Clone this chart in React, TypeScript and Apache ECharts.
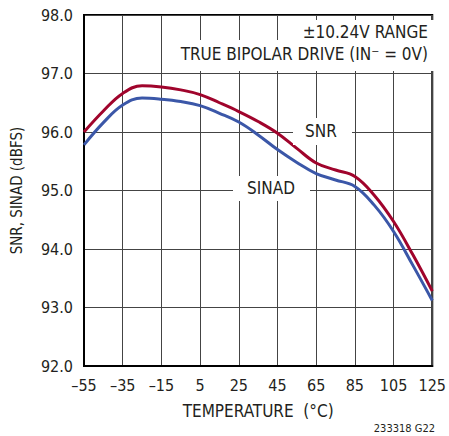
import React, { useEffect, useRef } from "react";
import * as echarts from "echarts";

const temps = [-55, -45, -35, -25, -15, -5, 5, 15, 25, 35, 45, 55, 65, 75, 85, 95, 105, 115, 125];
const snr = [96.0, 96.36, 96.66, 96.79, 96.77, 96.72, 96.64, 96.5, 96.35, 96.18, 95.98, 95.72, 95.47, 95.35, 95.24, 94.92, 94.47, 93.9, 93.28];
const sinad = [95.78, 96.16, 96.46, 96.58, 96.56, 96.52, 96.45, 96.32, 96.17, 95.95, 95.7, 95.48, 95.29, 95.18, 95.07, 94.75, 94.3, 93.72, 93.12];
const xTicks = [-55, -35, -15, 5, 25, 45, 65, 85, 105, 125];
const yTicks = [92, 93, 94, 95, 96, 97, 98];

const FONT = "'DejaVu Sans Condensed', 'Liberation Sans', sans-serif";
const TXT = "#231f20";

export default function App() {
  const ref = useRef<HTMLDivElement>(null);
  useEffect(() => {
    const chart = echarts.init(ref.current!, null, { renderer: "svg" });
    chart.setOption({
      animation: false,
      grid: { left: 84, right: 13, top: 15, bottom: 70, show: true, borderColor: "#000", borderWidth: 2 },
      xAxis: {
        type: "value",
        min: xTicks[0],
        max: xTicks[xTicks.length - 1],
        interval: 20,
        name: "TEMPERATURE  (°C)",
        nameLocation: "middle",
        nameGap: 36,
        nameTextStyle: { fontFamily: FONT, fontSize: 17, color: TXT },
        axisLine: { onZero: false, lineStyle: { color: "#000", width: 2 } },
        axisTick: { show: false },
        axisLabel: {
          fontFamily: FONT,
          fontSize: 16,
          color: TXT,
          margin: 11,
          formatter: (v: number) => (v < 0 ? "\u2013" + Math.abs(v) : String(v)),
        },
        splitLine: { show: true, lineStyle: { color: "#444", width: 1 } },
      },
      yAxis: {
        type: "value",
        min: yTicks[0],
        max: yTicks[yTicks.length - 1],
        interval: 1,
        name: "SNR, SINAD (dBFS)",
        nameLocation: "middle",
        nameGap: 60,
        nameTextStyle: { fontFamily: FONT, fontSize: 15, color: TXT },
        axisLine: { show: true, onZero: false, lineStyle: { color: "#000", width: 2 } },
        axisTick: { show: false },
        axisLabel: {
          fontFamily: FONT,
          fontSize: 16,
          color: TXT,
          margin: 11,
          formatter: (v: number) => v.toFixed(1),
        },
        splitLine: { show: true, lineStyle: { color: "#444", width: 1 } },
      },
      series: [
        {
          name: "SNR",
          type: "line",
          data: temps.map((t, i) => [t, snr[i]]),
          smooth: 0.4,
          showSymbol: false,
          lineStyle: { color: "#a0042c", width: 3 },
          z: 3,
        },
        {
          name: "SINAD",
          type: "line",
          data: temps.map((t, i) => [t, sinad[i]]),
          smooth: 0.4,
          showSymbol: false,
          lineStyle: { color: "#3b57a8", width: 3 },
          z: 3,
        },
      ],
      graphic: [
        { type: "rect", shape: { x: 293, y: 118, width: 59, height: 27 }, style: { fill: "#fff" }, z: 10 },
        {
          type: "text",
          x: 321,
          y: 131,
          style: { text: "SNR", font: `17px ${FONT}`, fill: TXT, align: "center", verticalAlign: "middle" },
          z: 11,
        },
        { type: "rect", shape: { x: 233, y: 176, width: 77, height: 25 }, style: { fill: "#fff" }, z: 10 },
        {
          type: "text",
          x: 271,
          y: 188,
          style: { text: "SINAD", font: `17px ${FONT}`, fill: TXT, align: "center", verticalAlign: "middle" },
          z: 11,
        },
        { type: "rect", shape: { x: 298, y: 20, width: 136, height: 24 }, style: { fill: "#fff" }, z: 10 },
        { type: "rect", shape: { x: 176, y: 40, width: 258, height: 31 }, style: { fill: "#fff" }, z: 10 },
        {
          type: "text",
          x: 428,
          y: 32,
          style: { text: "±10.24V RANGE", font: `17px ${FONT}`, fill: TXT, align: "right", verticalAlign: "middle" },
          z: 11,
        },
        {
          type: "text",
          x: 428,
          y: 54,
          style: { text: "TRUE BIPOLAR DRIVE (IN\u207B = 0V)", font: `17px ${FONT}`, fill: TXT, align: "right", verticalAlign: "middle" },
          z: 11,
        },
        {
          type: "text",
          x: 435,
          y: 428,
          style: { text: "233318 G22", font: `11px ${FONT}`, fill: TXT, align: "right", verticalAlign: "middle" },
          z: 11,
        },
      ],
    });
    return () => chart.dispose();
  }, []);
  return <div ref={ref} style={{ position: "fixed", left: 0, top: 0, width: 449, height: 436, background: "#fff" }} />;
}
